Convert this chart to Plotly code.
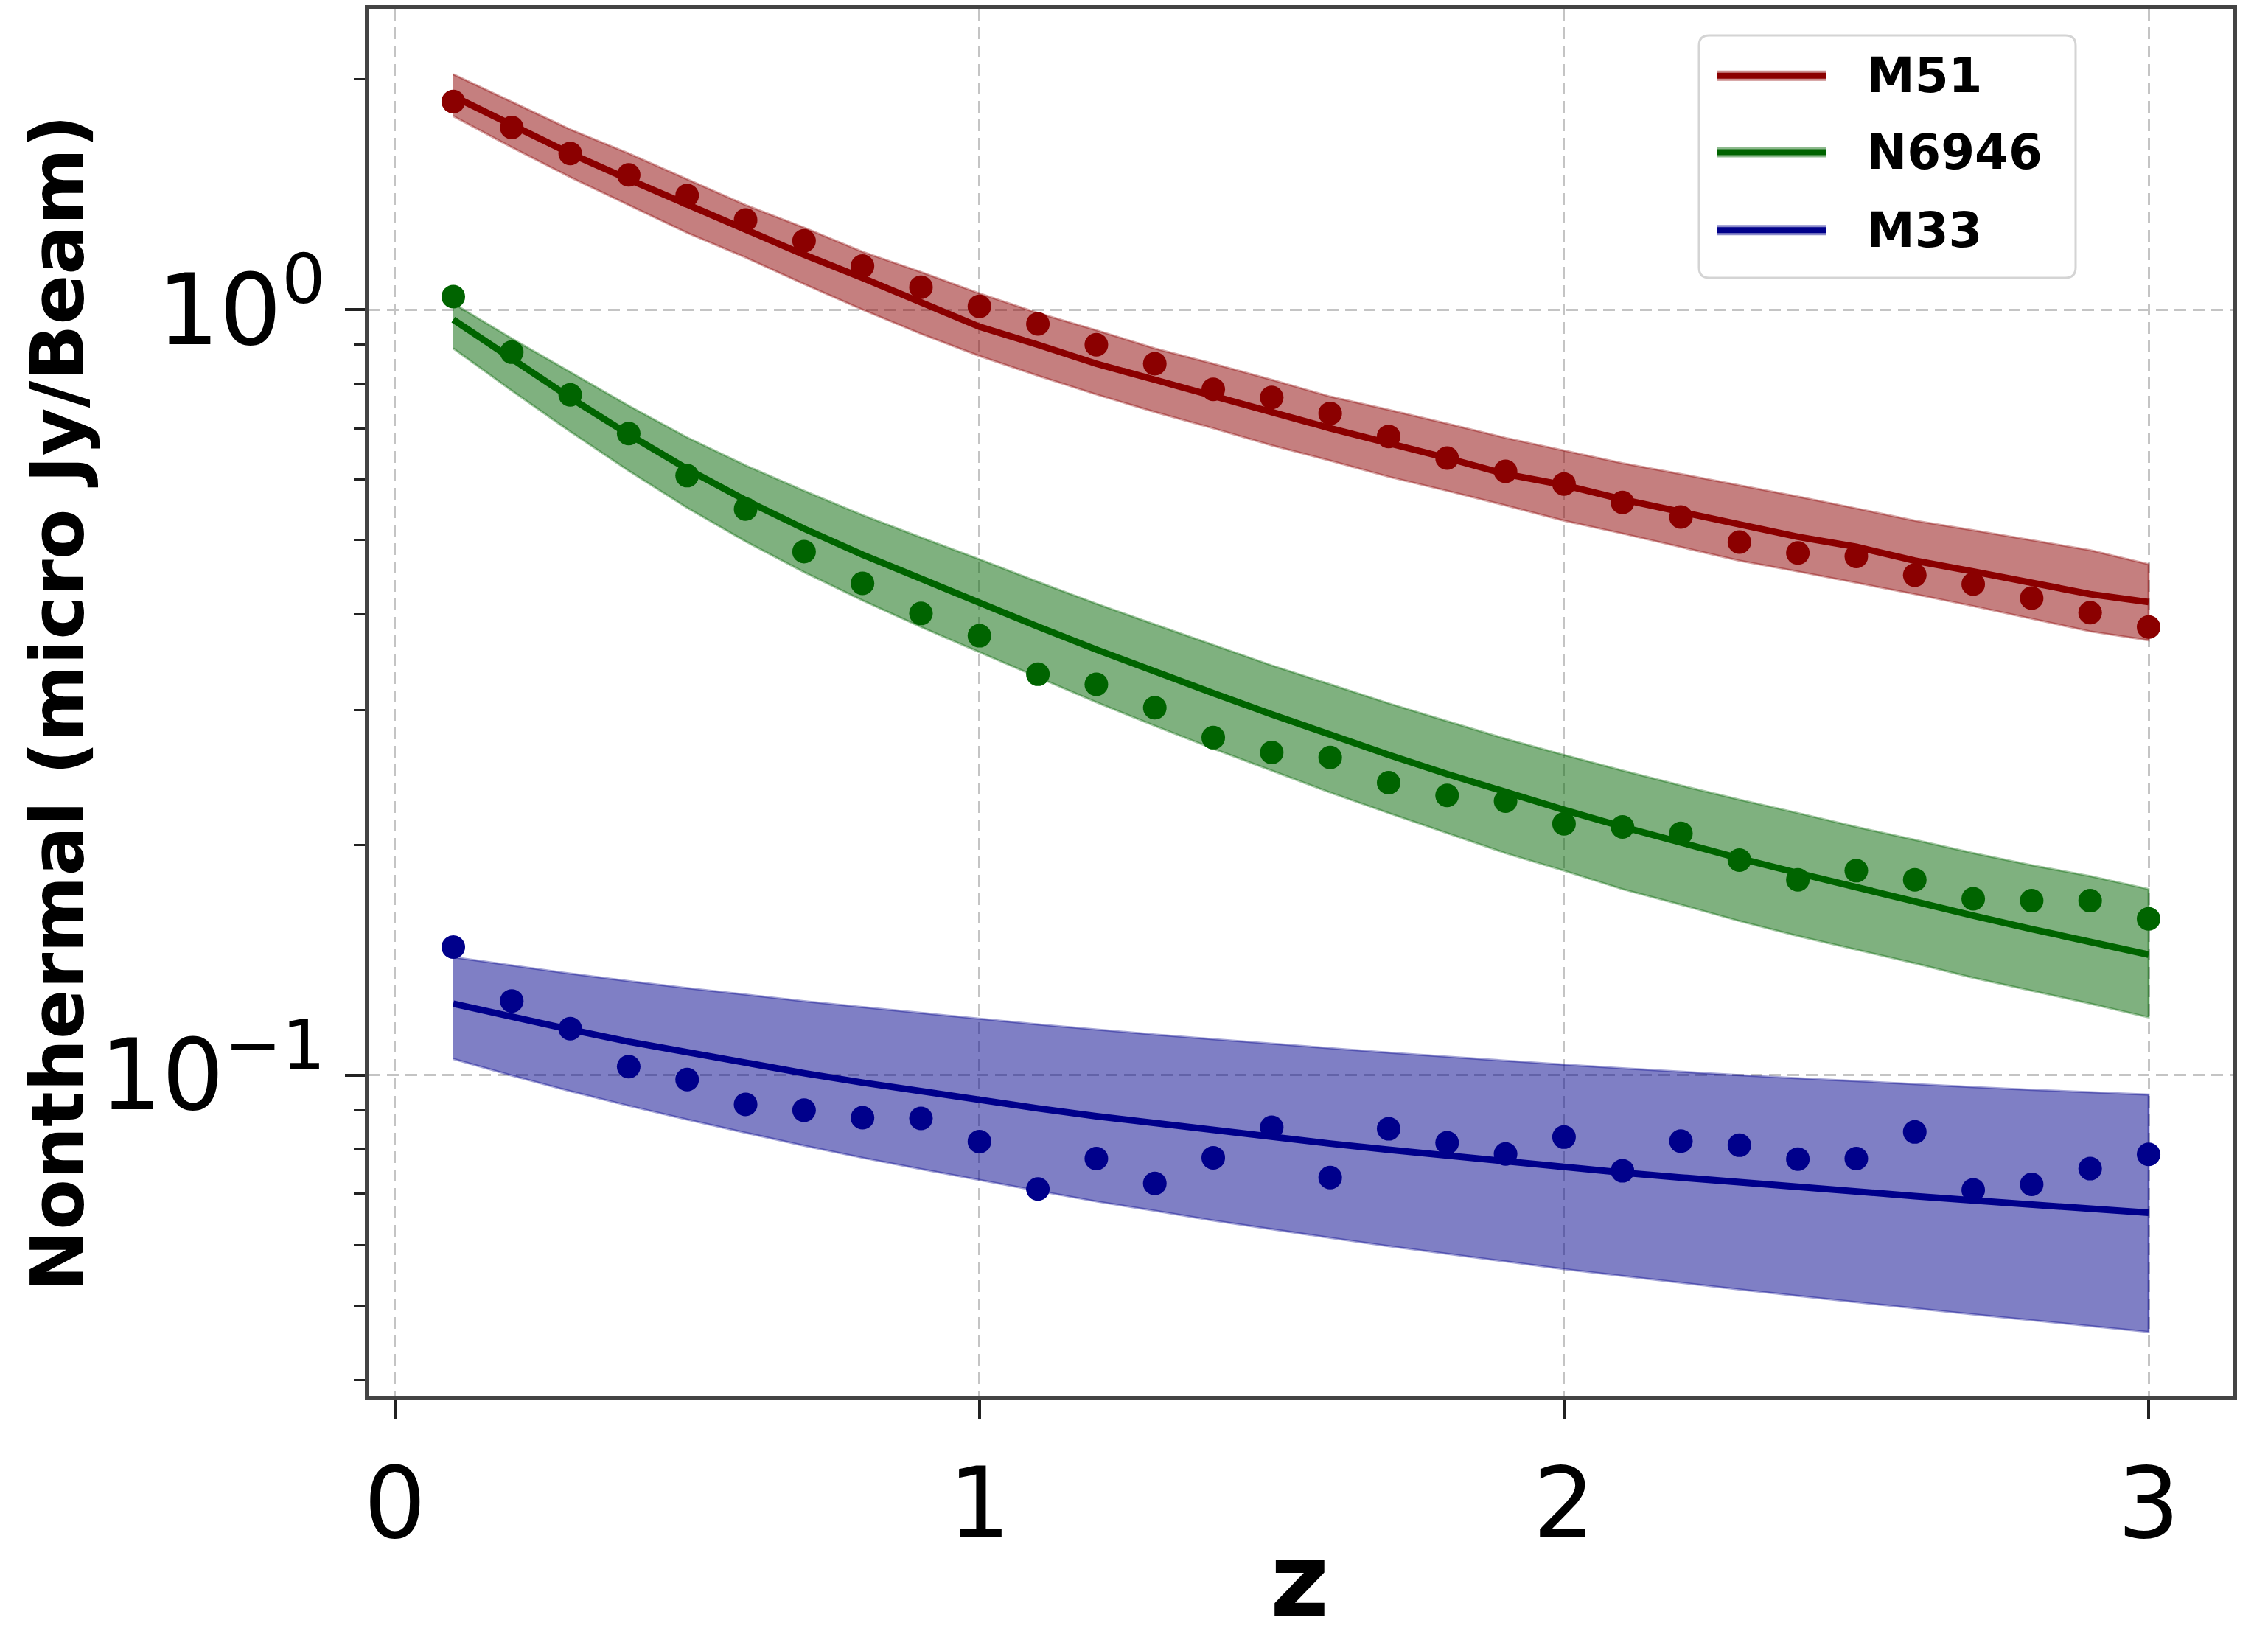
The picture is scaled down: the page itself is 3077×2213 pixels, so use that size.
import plotly.graph_objects as go

# ---------------- data ----------------
z = [0.1, 0.2, 0.3, 0.4, 0.5, 0.6, 0.7, 0.8, 0.9, 1.0,
     1.1, 1.2, 1.3, 1.4, 1.5, 1.6, 1.7, 1.8, 1.9, 2.0,
     2.1, 2.2, 2.3, 2.4, 2.5, 2.6, 2.7, 2.8, 2.9, 3.0]

m51_obs = [1.87, 1.73, 1.60, 1.50, 1.41, 1.31, 1.23, 1.14, 1.07, 1.01,
           0.958, 0.90, 0.85, 0.787, 0.768, 0.732, 0.683, 0.640, 0.615, 0.592,
           0.560, 0.536, 0.497, 0.481, 0.476, 0.450, 0.438, 0.420, 0.402, 0.385]
m51_fit = [1.90, 1.74, 1.60, 1.48, 1.37, 1.27, 1.18, 1.10, 1.02, 0.95,
           0.90, 0.85, 0.81, 0.77, 0.735, 0.70, 0.67, 0.64, 0.61, 0.59,
           0.565, 0.545, 0.525, 0.505, 0.49, 0.47, 0.455, 0.44, 0.425, 0.415]
m51_hi = [2.03, 1.87, 1.72, 1.60, 1.48, 1.37, 1.28, 1.19, 1.12, 1.05,
          0.99, 0.94, 0.89, 0.85, 0.81, 0.77, 0.74, 0.71, 0.68, 0.655,
          0.63, 0.61, 0.59, 0.57, 0.55, 0.53, 0.515, 0.50, 0.485, 0.465]
m51_lo = [1.79, 1.63, 1.49, 1.37, 1.26, 1.17, 1.08, 1.00, 0.93, 0.87,
          0.82, 0.775, 0.735, 0.70, 0.665, 0.635, 0.605, 0.58, 0.555, 0.53,
          0.51, 0.49, 0.47, 0.455, 0.44, 0.425, 0.41, 0.395, 0.38, 0.37]

n6946_obs = [1.04, 0.88, 0.774, 0.689, 0.607, 0.549, 0.483, 0.439, 0.401, 0.375,
             0.334, 0.324, 0.302, 0.276, 0.264, 0.260, 0.241, 0.232, 0.228, 0.213,
             0.211, 0.207, 0.191, 0.180, 0.185, 0.180, 0.170, 0.169, 0.169, 0.160]
n6946_fit = [0.9705, 0.861, 0.7674, 0.6871, 0.6194, 0.5636, 0.5176, 0.4786, 0.4446, 0.414,
             0.3855, 0.3597, 0.3365, 0.3155, 0.2961, 0.2782, 0.2621, 0.2474, 0.2342, 0.2221,
             0.2111, 0.2011, 0.192, 0.1837, 0.1758, 0.1685, 0.1616, 0.1552, 0.1493, 0.1437]
n6946_hi = [1.019, 0.917, 0.829, 0.749, 0.681, 0.626, 0.580, 0.539, 0.504, 0.472,
            0.441, 0.413, 0.388, 0.365, 0.343, 0.324, 0.306, 0.290, 0.275, 0.262,
            0.250, 0.239, 0.229, 0.220, 0.211, 0.203, 0.195, 0.188, 0.182, 0.175]
n6946_lo = [0.890, 0.784, 0.693, 0.616, 0.551, 0.498, 0.454, 0.417, 0.385, 0.357,
            0.331, 0.307, 0.286, 0.267, 0.250, 0.234, 0.220, 0.207, 0.195, 0.185,
            0.175, 0.167, 0.159, 0.152, 0.146, 0.140, 0.134, 0.129, 0.124, 0.119]

m33_obs = [0.147, 0.125, 0.115, 0.1026, 0.0987, 0.0916, 0.090, 0.088, 0.0878, 0.0819,
           0.071, 0.0778, 0.0722, 0.078, 0.0855, 0.0735, 0.0851, 0.0816, 0.0789, 0.083,
           0.0750, 0.0820, 0.081, 0.0777, 0.0778, 0.0843, 0.0708, 0.0720, 0.0755, 0.0788]
m33_fit = [0.1240, 0.1191, 0.1147, 0.1106, 0.1070, 0.1036, 0.1006, 0.0978, 0.0952, 0.0928,
           0.0905, 0.0884, 0.0865, 0.0847, 0.0830, 0.0814, 0.0799, 0.0785, 0.0771, 0.0759,
           0.0746, 0.0735, 0.0724, 0.0714, 0.0704, 0.0695, 0.0686, 0.0677, 0.0669, 0.0661]
m33_hi = [0.1426, 0.1390, 0.1357, 0.1327, 0.1299, 0.1274, 0.1249, 0.1227, 0.1205, 0.1185,
          0.1165, 0.1147, 0.1130, 0.1114, 0.1099, 0.1084, 0.1070, 0.1057, 0.1044, 0.1032,
          0.1021, 0.1010, 0.1000, 0.0991, 0.0982, 0.0973, 0.0965, 0.0957, 0.0950, 0.0943]
m33_lo = [0.1050, 0.0999, 0.0953, 0.0912, 0.0875, 0.0841, 0.0809, 0.0780, 0.0754, 0.0729,
          0.0706, 0.0684, 0.0665, 0.0646, 0.0629, 0.0613, 0.0598, 0.0584, 0.0571, 0.0558,
          0.0547, 0.0536, 0.0525, 0.0515, 0.0505, 0.0496, 0.0487, 0.0478, 0.0470, 0.0462]

names = ["M51", "N6946", "M33"]
x_ticks = [0, 1, 2, 3]
y_ticks = [0.1, 1]
y_ticktext = ["10<sup>\u22121</sup>", "10<sup>0</sup>"]
y_minor = [0.04, 0.05, 0.06, 0.07, 0.08, 0.09,
           0.2, 0.3, 0.4, 0.5, 0.6, 0.7, 0.8, 0.9, 2.0]

series = [
    (names[0], m51_obs, m51_fit, m51_hi, m51_lo, (139, 0, 0)),
    (names[1], n6946_obs, n6946_fit, n6946_hi, n6946_lo, (0, 100, 0)),
    (names[2], m33_obs, m33_fit, m33_hi, m33_lo, (0, 0, 139)),
]

# ---------------- figure ----------------
W, H = 3077, 2213
L, R, T, B = 500, 47, 7, 319
PW, PH = W - L - R, H - T - B
FONT = "DejaVu Sans"


def px_x(p):
    return (p - L) / PW


def px_y(p):
    return (H - B - p) / PH


fig = go.Figure()
for name, obs, fit, hi, lo, (r, g, b) in series:
    col = f"rgb({r},{g},{b})"
    fig.add_trace(go.Scatter(
        x=z + z[::-1], y=hi + lo[::-1], mode="lines", fill="toself",
        fillcolor=f"rgba({r},{g},{b},0.5)",
        line=dict(color=f"rgba({r},{g},{b},0.35)", width=3),
        showlegend=False, hoverinfo="skip"))
    fig.add_trace(go.Scatter(
        x=z, y=fit, mode="lines", name=name,
        line=dict(color=col, width=9), showlegend=False))
    fig.add_trace(go.Scatter(
        x=z, y=obs, mode="markers", name=name + " data",
        marker=dict(color=col, size=32, line=dict(width=0)), showlegend=False))

# manual legend (matplotlib style)
lx0, lx1, ly0, ly1, rad = 2305, 2816, 43, 373, 14
path = (f"M {px_x(lx0 + rad)},{px_y(ly0)} L {px_x(lx1 - rad)},{px_y(ly0)} "
        f"Q {px_x(lx1)},{px_y(ly0)} {px_x(lx1)},{px_y(ly0 + rad)} "
        f"L {px_x(lx1)},{px_y(ly1 - rad)} Q {px_x(lx1)},{px_y(ly1)} {px_x(lx1 - rad)},{px_y(ly1)} "
        f"L {px_x(lx0 + rad)},{px_y(ly1)} Q {px_x(lx0)},{px_y(ly1)} {px_x(lx0)},{px_y(ly1 - rad)} "
        f"L {px_x(lx0)},{px_y(ly0 + rad)} Q {px_x(lx0)},{px_y(ly0)} {px_x(lx0 + rad)},{px_y(ly0)} Z")
shapes = [dict(type="path", xref="paper", yref="paper", path=path,
               fillcolor="white", line=dict(color="#d4d4d4", width=3), layer="above")]
annotations = []
for (name, obs, fit, hi, lo, (r, g, b)), yy in zip(series, [98, 202, 308]):
    shapes.append(dict(type="line", xref="paper", yref="paper",
                       x0=px_x(2329), x1=px_x(2477), y0=px_y(yy), y1=px_y(yy),
                       line=dict(color=f"rgba({r},{g},{b},0.45)", width=14), layer="above"))
    shapes.append(dict(type="line", xref="paper", yref="paper",
                       x0=px_x(2329), x1=px_x(2477), y0=px_y(yy), y1=px_y(yy),
                       line=dict(color=f"rgb({r},{g},{b})", width=8), layer="above"))
    annotations.append(dict(xref="paper", yref="paper", x=px_x(2530), y=px_y(yy),
                            xanchor="left", yanchor="middle", showarrow=False, text=name,
                            font=dict(family=FONT, size=66, color="black", weight="bold")))

annotations.append(dict(xref="paper", yref="paper", x=px_x(78), y=px_y(952),
                        xanchor="center", yanchor="middle", showarrow=False, textangle=-90,
                        text="Nonthermal (micro Jy/Beam)",
                        font=dict(family=FONT, size=100, color="black", weight="bold")))
annotations.append(dict(xref="paper", yref="paper", x=px_x(1763), y=px_y(2145),
                        xanchor="center", yanchor="middle", showarrow=False, text="z",
                        font=dict(family=FONT, size=138, color="black", weight="bold")))

fig.update_layout(
    width=W, height=H,
    margin=dict(l=L, r=R, t=T, b=B, pad=0),
    paper_bgcolor="white", plot_bgcolor="white",
    showlegend=False,
    shapes=shapes, annotations=annotations,
    font=dict(family=FONT, color="black"),
)
fig.update_xaxes(
    range=[-0.045, 3.145], tickmode="array", tickvals=x_ticks,
    ticks="outside", ticklen=27, tickwidth=4, tickcolor="#222",
    tickfont=dict(family=FONT, size=133, color="black"),
    showline=True, linewidth=5, linecolor="#444", mirror=True,
    showgrid=True, gridcolor="#c4c4c4", gridwidth=3, griddash="16px,9px",
    zeroline=False,
)
fig.update_yaxes(
    type="log", range=[-1.419, 0.393], tickmode="array",
    tickvals=y_ticks, ticktext=y_ticktext,
    ticks="outside", ticklen=27, tickwidth=4, tickcolor="#222",
    tickfont=dict(family=FONT, size=133, color="black"),
    showline=True, linewidth=5, linecolor="#444", mirror=True,
    showgrid=True, gridcolor="#c4c4c4", gridwidth=3, griddash="16px,9px",
    zeroline=False,
    minor=dict(tickmode="array", tickvals=y_minor, ticks="outside", ticklen=15,
               tickwidth=3, tickcolor="#222", showgrid=False),
)

fig.write_html("out.html")
